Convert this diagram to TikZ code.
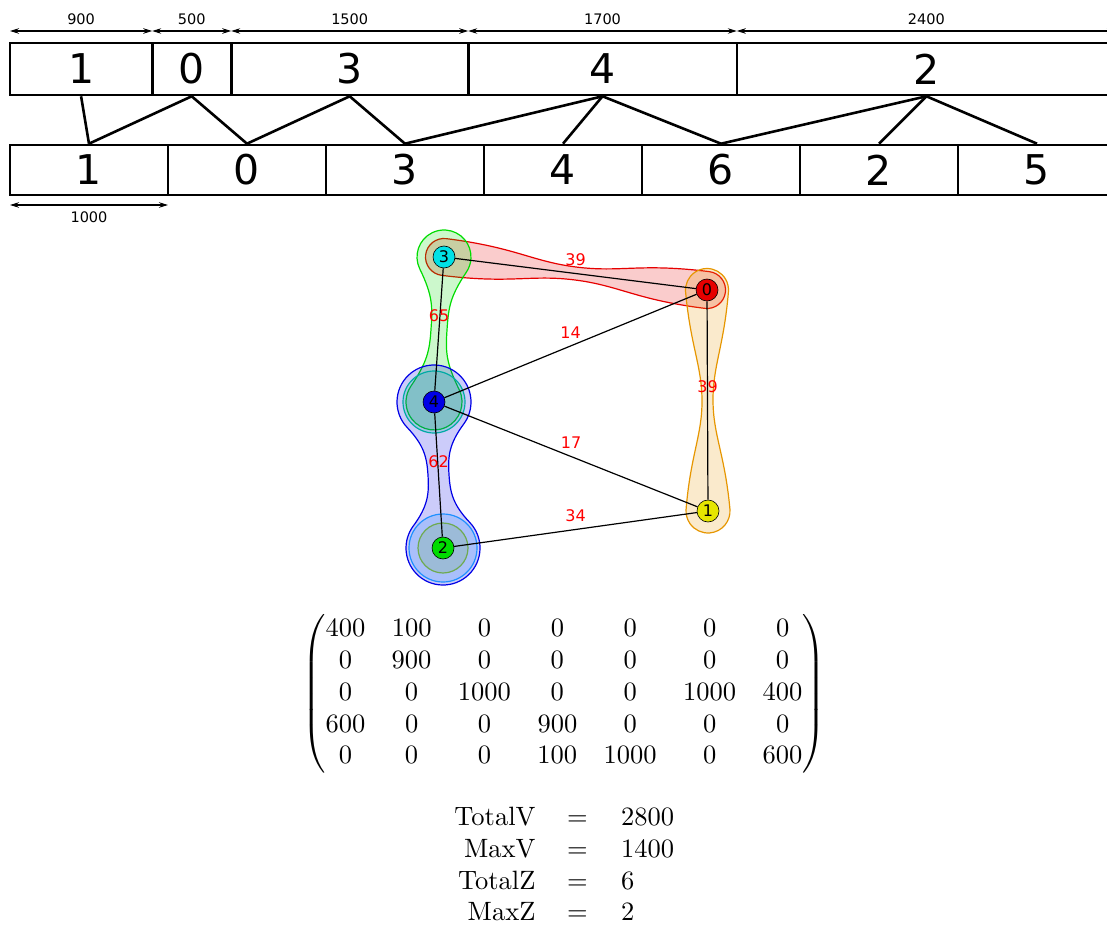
\documentclass[tikz,border=0pt]{standalone}
\usepackage{amsmath}
\usepackage{fontspec}
\setsansfont{DejaVu Sans}
\usetikzlibrary{arrows.meta}
\definecolor{vcyan}{RGB}{0,225,230}
\definecolor{vred}{RGB}{230,0,0}
\definecolor{vblue}{RGB}{0,0,230}
\definecolor{vyellow}{RGB}{230,230,0}
\definecolor{vgreen}{RGB}{0,220,0}
\definecolor{hred}{RGB}{230,0,0}
\definecolor{hgreen}{RGB}{0,220,0}
\definecolor{horange}{RGB}{230,150,0}
\definecolor{hblue}{RGB}{0,0,230}
\definecolor{hteal}{RGB}{0,170,165}
\definecolor{hsky}{RGB}{30,144,255}
\definecolor{holive}{RGB}{110,170,80}
% #1 length, #2 radius A, #3 radius B, #4 half waist, #5 control at ends, #6 control at waist, #7 departure angle
\newcommand\blobpath[7]{%
  (180:#2) arc[start angle=180,end angle=#7,radius=#2]
  .. controls +({#7-90}:#5) and +(-#6,0) .. ({#1/2},#4)
  .. controls +(#6,0) and +({270-#7}:#5) .. ({#1+#3*cos(180-#7)},{#3*sin(180-#7)})
  arc[start angle={180-#7},end angle={#7-180},radius=#3]
  .. controls +({#7+90}:#5) and +(#6,0) .. ({#1/2},-#4)
  .. controls +(-#6,0) and +({90-#7}:#5) .. ({#2*cos(-#7)},{#2*sin(-#7)})
  arc[start angle={-#7},end angle=-180,radius=#2] -- cycle}
\begin{document}
\begin{tikzpicture}[x=1pt,y=1pt,
  box/.style={draw, line width=2.6pt, inner sep=0pt, font=\sffamily\fontsize{41}{41}\selectfont},
  link/.style={line width=2.6pt},
  dim/.style={line width=1.1pt, {Stealth[length=9pt,width=5.5pt]}-{Stealth[length=9pt,width=5.5pt]}},
  dimlab/.style={font=\sffamily\fontsize{14.5}{14.5}\selectfont, inner sep=0pt},
  vert/.style={circle, draw=black, line width=0.6pt, minimum size=22pt, inner sep=0pt, font=\sffamily\fontsize{16}{16}\selectfont},
  edge/.style={line width=1.2pt},
  elab/.style={text=red, font=\sffamily\fontsize{16}{16}\selectfont, inner sep=0pt, yshift=13.5pt},
  hull/.style={line width=1.2pt, draw=#1, fill=#1, fill opacity=0.2, draw opacity=1},
  lm/.style={scale=2.65, inner sep=0pt},
]
\useasboundingbox (0,0) rectangle (1107,-925);

% ---------- top row ----------
\node[box, minimum width=142.2pt, minimum height=52pt] (t1) at (81.1,-69) {1};
\node[box, minimum width=79pt, minimum height=52pt] (t0) at (191.7,-69) {0};
\node[box, minimum width=237pt, minimum height=52pt] (t3) at (349.7,-69) {3};
\node[box, minimum width=268.6pt, minimum height=52pt] (t4) at (602.5,-69) {4};
\node[box, minimum width=379.2pt, minimum height=52pt] (t2) at (926.4,-69) {2};

% ---------- bottom row ----------
\foreach \lab/\nm/\cx in {1/b1/89, 0/b0/247, 3/b3/405, 4/b4/563, 6/b6/721, 2/b2/879, 5/b5/1037}
  \node[box, minimum width=158pt, minimum height=50pt] (\nm) at (\cx,-170) {\lab};

% ---------- links ----------
\draw[link] (t1.south) -- (b1.north);
\draw[link] (t0.south) -- (b1.north);
\draw[link] (t0.south) -- (b0.north);
\draw[link] (t3.south) -- (b0.north);
\draw[link] (t3.south) -- (b3.north);
\draw[link] (t4.south) -- (b3.north);
\draw[link] (t4.south) -- (b4.north);
\draw[link] (t4.south) -- (b6.north);
\draw[link] (t2.south) -- (b6.north);
\draw[link] (t2.south) -- (b2.north);
\draw[link] (t2.south) -- (b5.north);

% ---------- dimensions ----------
\coordinate (d0) at (10,-31);
\coordinate (d1) at (152.2,-31);
\coordinate (d2) at (231.2,-31);
\coordinate (d3) at (468.2,-31);
\coordinate (d4) at (736.8,-31);
\coordinate (d5) at (1116,-31);
\draw[dim] (d0) -- (d1);
\draw[dim] (d1) -- (d2);
\draw[dim] (d2) -- (d3);
\draw[dim] (d3) -- (d4);
\draw[dim] (d4) -- (d5);
\node[dimlab] (l900) at (81.1,-19) {900};
\node[dimlab] (l500) at (191.7,-19) {500};
\node[dimlab] (l1500) at (349.7,-19) {1500};
\node[dimlab] (l1700) at (602.5,-19) {1700};
\node[dimlab] (l2400) at (926.4,-19) {2400};
\coordinate (e0) at (10,-205);
\coordinate (e1) at (168,-205);
\draw[dim] (e0) -- (e1);
\node[dimlab] (l1000) at (89,-217) {1000};

% ---------- graph ----------
\coordinate (p3) at (444,-257);
\coordinate (p0) at (707,-290);
\coordinate (p4) at (434,-402);
\coordinate (p1) at (708,-511);
\coordinate (p2) at (443,-548);

\begin{scope}[shift={(p3)}, rotate=-7.15]
  \path[hull=hred] \blobpath{265.1}{18.5}{18.5}{6.5}{70}{45}{90};
\end{scope}
\begin{scope}[shift={(p3)}, rotate=-93.94]
  \path[hull=hgreen] \blobpath{145.3}{27}{28}{8}{30}{22}{60};
\end{scope}
\begin{scope}[shift={(p0)}, rotate=-89.74]
  \path[hull=horange] \blobpath{221}{21.5}{22}{5.5}{55}{35}{85};
\end{scope}
\begin{scope}[shift={(p4)}, rotate=-86.47]
  \path[hull=hblue] \blobpath{146.3}{37}{37}{10.5}{25}{18}{50};
\end{scope}
\path[hull=hteal] (p4) circle[radius=31];
\path[hull=hsky] (p2) circle[radius=34];
\path[hull=holive] (p2) circle[radius=25];

\node[vert, fill=vcyan] (n3) at (p3) {3};
\node[vert, fill=vred] (n0) at (p0) {0};
\node[vert, fill=vblue] (n4) at (p4) {4};
\node[vert, fill=vyellow] (n1) at (p1) {1};
\node[vert, fill=vgreen] (n2) at (p2) {2};

\draw[edge] (n3) -- (n0) node[midway, elab] {39};
\draw[edge] (n3) -- (n4) node[midway, elab] {65};
\draw[edge] (n4) -- (n0) node[midway, elab] {14};
\draw[edge] (n0) -- (n1) node[midway, elab] {39};
\draw[edge] (n4) -- (n1) node[midway, elab] {17};
\draw[edge] (n4) -- (n2) node[midway, elab] {62};
\draw[edge] (n2) -- (n1) node[midway, elab] {34};

% ---------- matrix ----------
\node[scale=2.65, inner sep=0pt] (mat) at (564,-694) {$\begin{pmatrix}
400 & 100 & 0 & 0 & 0 & 0 & 0\\
0 & 900 & 0 & 0 & 0 & 0 & 0\\
0 & 0 & 1000 & 0 & 0 & 1000 & 400\\
600 & 0 & 0 & 900 & 0 & 0 & 0\\
0 & 0 & 0 & 100 & 1000 & 0 & 600
\end{pmatrix}$};

% ---------- totals ----------
\foreach \nm/\val/\yy [count=\i] in {TotalV/2800/825.5, MaxV/1400/857.3, TotalZ/6/889.1, MaxZ/2/920.9}{
  \node[lm, anchor=base east] (k\i) at (536,-\yy) {\nm};
  \node[lm, anchor=base] (q\i) at (577.5,-\yy) {$=$};
  \node[lm, anchor=base west] (v\i) at (620.5,-\yy) {\val};
}
\end{tikzpicture}
\end{document}
